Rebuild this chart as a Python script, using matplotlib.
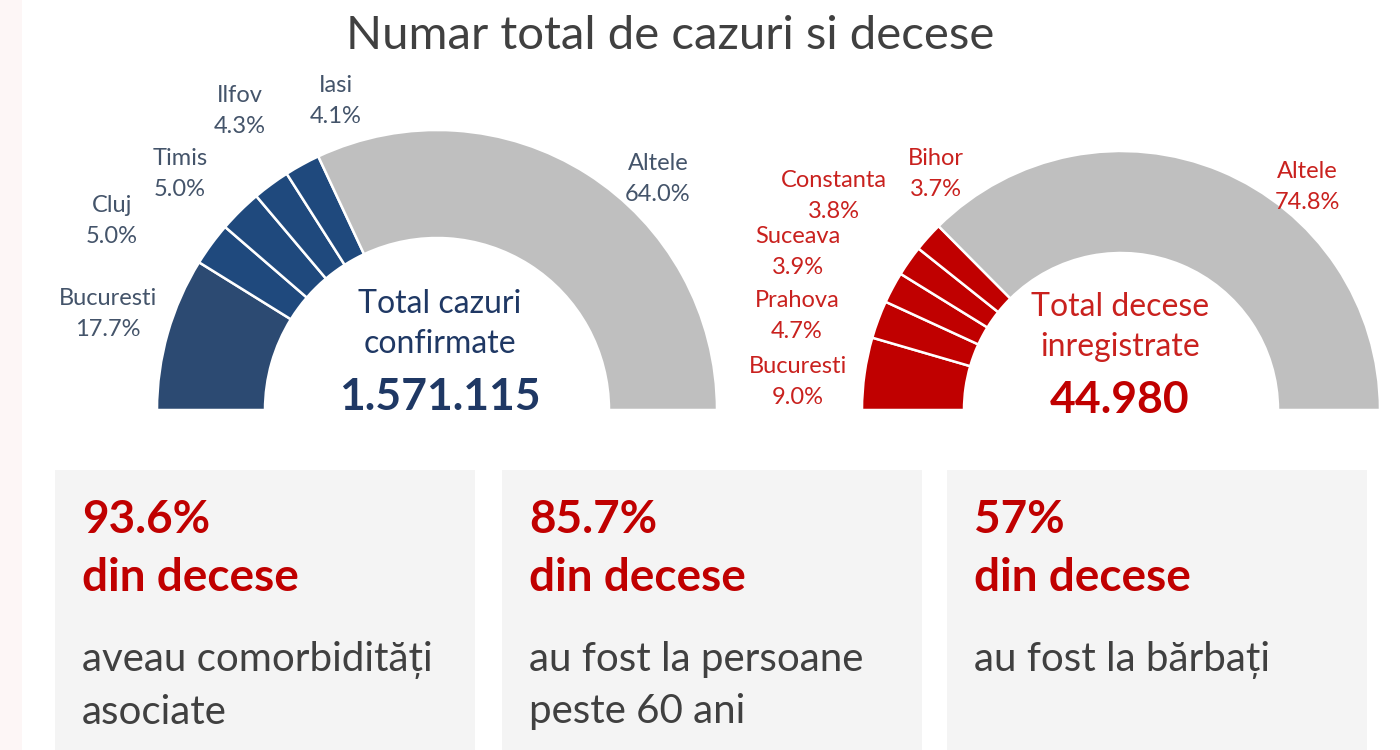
import matplotlib.pyplot as plt
from matplotlib.patches import Rectangle

plt.rcParams['font.family'] = ['Lato', 'DejaVu Sans']

# data
cases_labels = ['Bucuresti', 'Cluj', 'Timis', 'Ilfov', 'Iasi', 'Altele']
cases_pct = [17.7, 5.0, 5.0, 4.3, 4.1, 64.0]
deaths_labels = ['Bucuresti', 'Prahova', 'Suceava', 'Constanta', 'Bihor', 'Altele']
deaths_pct = [9.0, 4.7, 3.9, 3.8, 3.7, 74.8]
total_cases = '1.571.115'
total_deaths = '44.980'
stat_values = ['93.6%', '85.7%', '57%']
stat_texts = ['aveau comorbidități\nasociate', 'au fost la persoane\npeste 60 ani',
              'au fost la bărbați']

# layout (pixel coords, y from top)
H = 750
cases_label_xy = [(108, 314), (112, 221), (180, 174), (240, 111), (336, 101), (658, 179)]
deaths_label_xy = [(798, 382), (797, 316), (798, 252), (834, 196), (936, 174), (1307, 187)]

NAVY = '#1F497D'
NAVY2 = '#2C4A72'
GRAY = '#BFBFBF'
RED = '#C00000'

fig = plt.figure(figsize=(14, 7.5), dpi=100)
ax = fig.add_axes([0, 0, 1, 1])


def half_donut(vals, colors, center, radius, width):
    wedges, _ = ax.pie(vals + [sum(vals)], colors=colors + ['none'], radius=radius,
                       center=center, startangle=180, counterclock=False,
                       wedgeprops=dict(width=width, edgecolor='white', linewidth=1.8))
    wedges[-1].set_visible(False)


half_donut(cases_pct, [NAVY2, NAVY, NAVY, NAVY, NAVY, GRAY], (437, H - 410), 280, 108)
half_donut(deaths_pct, [RED] * 5 + [GRAY], (1121, H - 410), 259, 102)

for name, pct, (x, y) in zip(cases_labels, cases_pct, cases_label_xy):
    ax.text(x, H - y, f'{name}\n{pct:.1f}%', ha='center', va='center',
            fontsize=17, color='#44546A', linespacing=1.55)
for name, pct, (x, y) in zip(deaths_labels, deaths_pct, deaths_label_xy):
    ax.text(x, H - y, f'{name}\n{pct:.1f}%', ha='center', va='center',
            fontsize=17, color='#C9211E', linespacing=1.55)

# centre texts
ax.text(440, H - 324, 'Total cazuri\nconfirmate', ha='center', va='center',
        fontsize=23, color='#1F3864', linespacing=1.45)
ax.text(440, H - 397, total_cases, ha='center', va='center',
        fontsize=32, color='#1F3864', fontweight='bold')
ax.text(1120, H - 327, 'Total decese\ninregistrate', ha='center', va='center',
        fontsize=23, color='#C9211E', linespacing=1.45)
ax.text(1120, H - 400, total_deaths, ha='center', va='center',
        fontsize=32, color=RED, fontweight='bold')

ax.text(670, H - 36, 'Numar total de cazuri si decese', ha='center', va='center',
        fontsize=34, color='#404040')

# bottom boxes
box_x = [55, 502, 947]
for bx, val, txt in zip(box_x, stat_values, stat_texts):
    ax.add_patch(Rectangle((bx, 0), 420, H - 470, facecolor='#F4F4F4', edgecolor='none'))
    ax.text(bx + 27, H - 520, val, ha='left', va='center', fontsize=33,
            color=RED, fontweight='bold')
    ax.text(bx + 27, H - 578, 'din decese', ha='left', va='center', fontsize=33,
            color=RED, fontweight='bold')
    ax.text(bx + 27, H - 641, txt, ha='left', va='top', fontsize=29,
            color='#404040', linespacing=1.5)

ax.add_patch(Rectangle((0, 0), 22, H, facecolor='#FDF6F6', edgecolor='none'))

ax.set_xlim(0, 1400)
ax.set_ylim(0, H)
ax.set_aspect('equal')
ax.axis('off')

plt.savefig('out.png')
